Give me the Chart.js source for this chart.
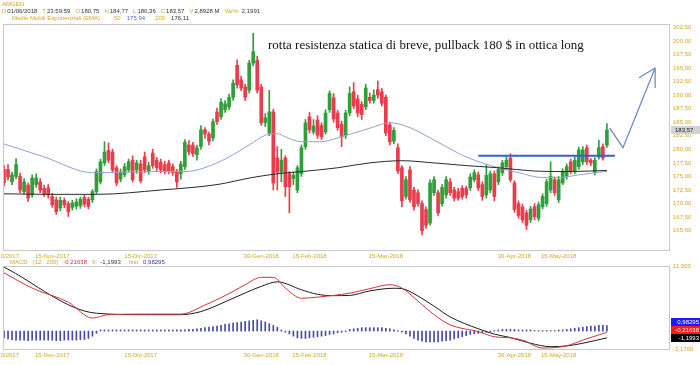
<!DOCTYPE html>
<html>
<head>
<meta charset="utf-8">
<title>AMGEN</title>
<script src="https://cdn.jsdelivr.net/npm/chart.js@4.4.1/dist/chart.umd.min.js"></script>
<style>
  html, body { margin: 0; padding: 0; background: #fff; }
  #wrap { position: relative; width: 700px; height: 365px; overflow: hidden; }
  #main { position: absolute; left: 0; top: 0; }
  #macd { position: absolute; left: 0; top: 257px; }
</style>
</head>
<body>
<div id="wrap">
  <canvas id="main" width="700" height="262" style="width:700px;height:262px"></canvas>
  <canvas id="macd" width="700" height="108" style="width:700px;height:108px"></canvas>
</div>
<script>
// Dati (AMGEN, giornaliero 31/10/2017 - 01/06/2018)
const tickIdx = [0, 12, 34, 64, 76, 95, 127, 138];
const tickLab = ['31/10/2017', '15-Nov-2017', '15-Dic-2017', '30-Gen-2018', '15-Feb-2018', '15-Mar-2018', '30-Apr-2018', '15-May-2018'];
const yTicks = [165, 167.5, 170, 172.5, 175, 177.5, 180, 182.5, 185, 187.5, 190, 192.5, 195, 197.5, 200, 202.5];
const macdTicks = [-3.17, 11.503];

const open = [
  176.3,176.3,174.0,175.0,175.0,172.2,173.4,171.6,173.5,174.0,
  172.8,172.9,171.3,170.7,169.2,170.6,170.0,169.3,169.5,169.6,
  171.1,170.8,170.7,172.2,174.0,177.5,179.8,179.5,176.6,174.5,
  175.3,176.2,178.0,176.2,177.3,178.6,175.9,179.3,178.0,177.6,
  177.2,177.5,176.8,175.9,175.5,176.8,180.8,180.8,179.0,180.5,
  183.6,182.8,182.1,186.9,186.0,187.3,187.8,189.6,195.5,192.8,
  191.5,190.9,195.9,196.4,191.5,184.9,183.0,186.9,178.4,175.8,
  178.4,175.5,174.6,172.5,175.5,180.5,186.0,183.2,185.4,184.4,
  183.2,187.3,189.5,186.7,184.6,182.6,186.7,190.6,189.3,188.3,
  187.8,189.6,189.0,191.0,190.6,189.6,184.5,181.5,180.3,176.6,
  171.3,176.2,172.5,172.0,170.0,168.9,166.4,172.0,172.0,170.0,
  171.6,174.0,172.5,172.2,172.8,172.8,172.9,174.4,175.3,173.5,
  171.6,172.5,175.5,174.0,175.7,176.8,178.4,173.8,170.0,169.4,
  168.3,167.0,169.4,167.3,169.4,170.0,172.5,174.4,170.7,173.8,
  175.0,177.7,176.0,176.8,177.7,180.3,178.0,175.8,178.6,180.5,
  180.75
];
const high = [
  177.0,177.2,175.8,178.3,175.6,174.6,173.8,175.3,175.5,174.6,
  173.4,173.5,171.9,171.2,171.2,171.0,170.4,170.6,170.9,171.2,
  171.6,171.2,172.6,176.4,178.2,181.4,181.2,180.0,177.0,176.4,
  177.4,178.2,178.8,178.0,178.0,179.5,177.6,180.0,178.5,178.2,
  177.8,178.0,177.3,176.3,177.8,181.8,181.6,181.3,180.8,184.4,
  184.0,183.2,185.6,187.6,189.3,189.0,190.2,192.8,196.5,193.5,
  192.0,196.4,201.4,197.2,192.0,186.6,190.9,187.4,180.5,180.0,
  178.8,175.9,175.8,177.0,180.8,185.5,186.8,185.5,186.2,184.9,
  187.3,190.8,190.3,187.2,185.2,187.2,191.5,192.3,190.0,188.8,
  192.0,190.4,191.0,192.6,191.2,190.0,185.0,184.0,181.0,177.0,
  175.0,176.8,173.0,172.6,170.5,169.4,174.4,175.0,172.5,173.5,
  175.0,174.6,173.0,172.8,173.3,173.2,175.5,176.2,175.8,174.0,
  177.1,176.0,176.0,176.8,178.0,178.8,179.2,174.2,170.5,169.9,
  168.8,169.5,170.0,170.3,171.8,174.5,177.7,174.9,175.0,176.4,
  177.3,178.2,178.6,180.4,180.5,180.8,178.3,178.5,181.7,181.0,
  184.77
];
const low = [
  173.3,174.3,173.5,174.6,172.0,171.8,170.4,171.2,173.0,172.0,
  171.3,171.0,169.3,168.0,168.7,169.2,167.6,168.8,169.0,169.1,
  169.4,169.0,170.2,171.8,173.6,177.0,177.5,175.8,173.3,174.0,
  174.9,175.8,174.0,175.6,173.8,175.7,175.4,176.5,176.0,175.7,
  175.5,175.5,175.2,173.0,174.5,176.3,179.0,178.7,178.0,180.0,
  182.0,180.8,181.6,184.6,185.5,186.8,187.3,189.0,191.3,190.8,
  189.0,190.4,195.4,190.4,184.4,184.2,182.5,172.5,172.5,174.0,
  171.3,168.3,173.5,172.0,175.0,180.0,183.0,182.8,182.0,181.8,
  182.8,186.8,185.0,183.5,180.5,182.0,186.2,187.5,186.0,185.5,
  187.3,188.5,188.5,189.4,188.0,182.5,180.8,181.0,175.5,169.4,
  170.8,170.2,168.8,169.5,164.2,165.4,166.0,171.5,167.8,169.5,
  171.0,171.5,170.5,170.6,170.8,171.0,172.4,174.0,172.4,170.6,
  171.0,172.0,170.5,173.5,175.2,176.3,174.0,168.4,167.3,166.5,
  165.2,166.5,167.0,166.8,169.0,169.5,172.0,171.5,170.2,173.5,
  174.5,175.5,175.5,176.3,177.2,177.2,177.0,175.3,178.2,178.0,
  180.36
];
const close = [
  173.8,174.9,175.3,177.2,172.5,174.0,171.0,174.7,174.7,172.5,
  171.8,171.6,169.8,168.5,170.6,169.8,168.5,170.1,170.3,170.8,
  169.9,169.5,172.2,175.9,177.7,179.5,178.0,176.2,173.8,175.8,
  176.8,177.7,174.4,177.5,174.2,176.2,177.0,177.0,176.6,176.2,
  176.0,176.0,175.7,174.0,177.3,181.3,179.5,179.2,180.3,183.6,
  182.8,181.5,185.1,185.1,188.7,188.4,189.6,192.2,191.9,191.3,
  189.6,195.9,198.0,190.9,184.9,185.8,186.9,173.8,175.8,178.0,
  173.1,173.1,175.2,176.6,180.3,184.9,183.6,184.3,182.6,182.3,
  186.7,190.3,185.6,184.0,182.3,186.7,190.3,188.0,186.7,186.4,
  191.3,189.0,190.0,190.0,188.5,183.0,181.4,183.5,176.0,170.5,
  174.4,170.7,169.4,170.0,165.0,166.0,173.8,174.4,168.3,173.0,
  174.4,172.0,171.0,171.0,171.3,171.6,174.9,175.7,172.9,171.3,
  175.2,175.5,171.3,176.3,177.5,178.0,174.4,168.9,167.8,167.0,
  166.0,169.0,167.6,169.8,171.3,174.0,175.0,172.0,174.4,175.9,
  176.8,176.0,178.0,179.9,179.9,177.7,177.5,178.0,180.3,178.4,
  183.57
];

// medie mobili esponenziali [indice, valore]
const ema50 = [[0,181.0],[10,178.6],[22,175.7],[30,175.8],[37,175.9],[45,175.9],[53,177.5],[61,180.8],[65,182.6],[68,182.9],[70,182.3],[74,181.4],[79,181.4],[83,182.1],[91,183.9],[96,184.9],[101,184.0],[107,181.7],[115,178.6],[123,176.6],[128,175.7],[134,174.8],[138,174.8],[143,175.3],[150,175.94]];
const ema200 = [[0,171.8],[12,171.7],[23,171.7],[39,172.5],[53,173.5],[61,174.7],[68,175.5],[74,175.9],[83,176.6],[91,177.5],[99,177.9],[107,177.5],[115,177.0],[123,176.6],[132,176.0],[140,175.9],[150,176.11]];

// MACD (12, 200), segnale 9, istogramma
const macdLine = [[0,10.3],[7,7.6],[16,5.1],[22,2.3],[26,2.9],[35,3.0],[44,3.0],[50,4.6],[57,7.0],[60,8.2],[64,9.5],[67,9.5],[70,7.6],[74,5.8],[78,6.0],[82,6.3],[86,6.7],[91,7.5],[96,8.2],[99,7.6],[103,5.3],[107,2.9],[111,1.1],[118,-0.1],[122,-1.0],[126,-1.2],[129,-1.6],[134,-3.0],[140,-2.6],[144,-1.6],[150,-0.21638]];
const signalLine = [[0,11.3],[23,3.15],[35,2.9],[44,2.9],[49,3.45],[57,5.8],[64,7.9],[68,8.7],[74,7.3],[78,6.5],[82,6.26],[86,6.3],[91,7.1],[97,7.57],[99,7.5],[103,6.2],[107,4.4],[111,2.5],[118,0.41],[122,-0.54],[126,-1.15],[131,-2.15],[136,-2.76],[140,-2.63],[144,-2.15],[150,-1.1993]];
const hist = [
  -1.2,-1.4,-1.5,-1.6,-1.6,-1.6,-1.7,-1.6,-1.6,-1.6,
  -1.6,-1.6,-1.6,-1.7,-1.7,-1.6,-1.6,-1.6,-1.6,-1.5,
  -1.5,-1.3,-0.9,-0.4,0.2,0.2,0.2,0.2,0.2,0.2,
  0.2,0.2,0.2,0.2,0.2,0.2,0.2,0.2,0.2,0.2,
  0.2,0.2,0.2,0.2,0.2,0.2,0.3,0.3,0.4,0.5,
  0.6,0.7,0.8,0.9,1.0,1.2,1.3,1.4,1.5,1.6,
  1.7,1.8,1.9,2.0,1.8,1.6,1.3,1.0,0.7,0.2,
  -0.2,-0.5,-0.9,-1.2,-1.3,-1.3,-1.2,-1.1,-1.0,-0.9,
  -0.8,-0.6,-0.5,-0.3,-0.2,-0.1,0.3,0.4,0.5,0.6,
  0.6,0.6,0.6,0.6,0.6,0.5,0.4,0.2,0.1,-0.2,
  -0.5,-0.9,-1.3,-1.6,-1.8,-1.9,-1.9,-1.9,-1.9,-1.8,
  -1.7,-1.6,-1.4,-1.2,-1.0,-0.8,-0.6,-0.5,-0.4,-0.3,
  -0.2,-0.1,0.1,0.2,0.3,0.3,0.3,0.3,0.2,0.2,
  0.2,0.2,0.1,0.1,0.1,0.1,0.1,0.1,0.2,0.2,
  0.3,0.4,0.5,0.6,0.7,0.8,0.9,0.9,1.0,1.0,
  0.98295
];

// linee disegnate a mano sul grafico
const resistenza = [[118, 178.8], [152, 178.8]];
const freccia = [[150.7, 183.9], [154, 180.3], [162, 195.0]];
const punta1 = [[158, 193.2], [162, 195.0]];
const punta2 = [[162, 195.0], [162, 191.3]];

const GOLD = '#d8a52a';
const DARK = '#333333';
const UP = '#2f9e3b';
const DOWN = '#ec3b4d';
const SANS = '"Liberation Sans", Arial, sans-serif';
const X_MIN = -0.25, X_MAX = 165.7;

const pts = arr => arr.map(p => ({ x: p[0], y: p[1] }));
const comma = (v, d) => v.toFixed(d).replace('.', ',');
const candleCol = close.map((c, i) => c >= open[i] ? UP : DOWN);

function drawRuns(ctx, x, y, parts) {
    parts.forEach(([t, c, g]) => {
        ctx.fillStyle = c;
        ctx.fillText(t, x, y);
        x += ctx.measureText(t).width + (g === undefined ? 1 : g);
    });
}

function xAxis(h) {
    return {
        type: 'linear', min: X_MIN, max: X_MAX, offset: false,
        grid: { display: false, drawTicks: false }, border: { display: false },
        ticks: {
            autoSkip: false, maxRotation: 0, padding: 3, color: GOLD,
            font: { size: 6, family: SANS },
            callback: v => tickLab[tickIdx.indexOf(v)] || ''
        },
        afterBuildTicks: s => { s.ticks = tickIdx.map(v => ({ value: v })); },
        afterFit: s => { s.height = h; s.paddingLeft = 0; s.paddingRight = 0; }
    };
}

function yAxis(min, max, ticks, fmt) {
    return {
        type: 'linear', position: 'right', min: min, max: max,
        grid: { display: false, drawTicks: false }, border: { display: false },
        ticks: { padding: 3, color: GOLD, font: { size: 6, family: SANS }, callback: fmt },
        afterBuildTicks: s => { s.ticks = ticks.map(v => ({ value: v })); },
        afterFit: s => { s.width = 30; s.paddingTop = 0; s.paddingBottom = 0; }
    };
}

// 1. Grafico principale: candele + medie
const mainPlugin = {
    id: 'mainDeco',
    afterDraw(chart) {
        const ctx = chart.ctx, a = chart.chartArea, y = chart.scales.y;
        ctx.save();
        ctx.strokeStyle = '#c8c8c8';
        ctx.lineWidth = 1;
        ctx.strokeRect(a.left + 0.5, a.top + 0.5, a.right - a.left - 1, a.bottom - a.top);

        ctx.font = '6px ' + SANS;
        ctx.textBaseline = 'middle';
        drawRuns(ctx, 2, 4, [['AMGEN', '#e39a2b']]);
        drawRuns(ctx, 2, 11, [
            ['D', GOLD], ['01/06/2018', DARK, 5], ['T', GOLD], ['23:59:59', DARK, 5],
            ['O', GOLD], [comma(open[150], 2), DARK, 5], ['H', GOLD], [comma(high[150], 2), DARK, 5],
            ['L', GOLD], [comma(low[150], 2), DARK, 5], ['C', GOLD], [comma(close[150], 2), DARK, 5],
            ['V', GOLD], ['2,8928 M', DARK, 5], ['Var%', GOLD, 3], ['2,1991', DARK]
        ]);
        drawRuns(ctx, 12, 18, [
            ['Medie Mobili Esponenziali (EMA)', GOLD, 14], ['50', GOLD, 6], [comma(175.94, 2), '#4a6fc0', 10],
            ['200', GOLD, 6], [comma(176.11, 2), DARK]
        ]);

        // commento
        ctx.font = '13px "Liberation Serif", "Times New Roman", serif';
        ctx.textBaseline = 'alphabetic';
        ctx.fillStyle = '#111';
        ctx.fillText('rotta resistenza statica di breve, pullback 180 $ in ottica long', 268, 49);

        // ultimo prezzo
        const py = Math.round(y.getPixelForValue(close[150]));
        ctx.fillStyle = '#d2d2d2';
        ctx.fillRect(a.right + 1, py - 4, 29, 8);
        ctx.fillStyle = '#222';
        ctx.font = '6px ' + SANS;
        ctx.textBaseline = 'middle';
        ctx.fillText(comma(close[150], 2), a.right + 5, py);
        ctx.restore();
    }
};

const lineDs = (data, color, width, order, curved) => ({
    type: 'line', data: pts(data), borderColor: color, borderWidth: width,
    pointRadius: 0, fill: false, order: order,
    cubicInterpolationMode: curved ? 'monotone' : 'default', tension: 0
});

new Chart(document.getElementById('main'), {
    type: 'bar',
    data: {
        datasets: [
            {
                data: close.map((c, i) => ({ x: i, y: [low[i], high[i]] })),
                backgroundColor: candleCol, barThickness: 1, grouped: false, order: 5
            },
            {
                data: close.map((c, i) => ({ x: i, y: [open[i], c] })),
                backgroundColor: candleCol, barThickness: 3, grouped: false, minBarLength: 1, order: 4
            },
            lineDs(ema200, '#2a2a2a', 1, 3, true),
            lineDs(ema50, '#8ea3d0', 1, 3, true),
            lineDs(resistenza, '#2f62d8', 2, 1),
            lineDs(freccia, '#6a84c4', 1.2, 1),
            lineDs(punta1, '#6a84c4', 1.2, 1),
            lineDs(punta2, '#6a84c4', 1.2, 1)
        ]
    },
    options: {
        responsive: false,
        animation: false,
        devicePixelRatio: 1,
        layout: { padding: { left: 3, top: 24, right: 0, bottom: 0 } },
        plugins: { legend: { display: false }, tooltip: { enabled: false } },
        scales: {
            x: xAxis(12),
            y: yAxis(161.44, 203.11, yTicks, v => comma(v, 2))
        }
    },
    plugins: [mainPlugin]
});

// 2. Pannello MACD
const macdPlugin = {
    id: 'macdDeco',
    afterDraw(chart) {
        const ctx = chart.ctx, a = chart.chartArea, y = chart.scales.y;
        ctx.save();
        ctx.strokeStyle = '#c8c8c8';
        ctx.lineWidth = 1;
        ctx.strokeRect(a.left + 0.5, a.top + 0.5, a.right - a.left - 1, a.bottom - a.top);

        ctx.font = '6px ' + SANS;
        ctx.textBaseline = 'middle';
        drawRuns(ctx, 10, 5, [
            ['MACD', GOLD, 5], ['(12 , 200)', GOLD, 5], [comma(macdLine[macdLine.length - 1][1], 5), '#d0303a', 5],
            ['9', GOLD, 5], [comma(signalLine[signalLine.length - 1][1], 4), DARK, 8],
            ['hist', GOLD, 5], [comma(hist[150], 5), '#3535a0']
        ]);

        // riquadri valori a destra (dal basso verso l'alto, senza sovrapposizioni)
        const boxes = [
            { v: signalLine[signalLine.length - 1][1], bg: '#000000', d: 4 },
            { v: macdLine[macdLine.length - 1][1], bg: '#ff1a1a', d: 5 },
            { v: hist[150], bg: '#1a1aff', d: 5 }
        ];
        let prev = Infinity;
        boxes.forEach(b => {
            let by = Math.round(y.getPixelForValue(b.v));
            if (by > prev - 8) by = prev - 8;
            prev = by;
            ctx.fillStyle = b.bg;
            ctx.fillRect(a.right + 1, by - 4, 29, 8);
            ctx.fillStyle = '#fff';
            ctx.textAlign = 'right';
            ctx.fillText(comma(b.v, b.d), a.right + 29, by);
        });
        ctx.restore();
    }
};

new Chart(document.getElementById('macd'), {
    type: 'bar',
    data: {
        datasets: [
            {
                data: hist.map((h, i) => ({ x: i, y: h })),
                backgroundColor: '#4848a8', barThickness: 1, grouped: false, order: 3
            },
            lineDs(signalLine, '#1a1a1a', 1, 2, true),
            lineDs(macdLine, '#d0343c', 1, 1, true)
        ]
    },
    options: {
        responsive: false,
        animation: false,
        devicePixelRatio: 1,
        layout: { padding: { left: 3, top: 9, right: 0, bottom: 0 } },
        plugins: { legend: { display: false }, tooltip: { enabled: false } },
        scales: {
            x: xAxis(16),
            y: yAxis(-3.17, 11.503, macdTicks, v => v > 0 ? comma(v, 3) : comma(v, 4))
        }
    },
    plugins: [macdPlugin]
});
</script>
</body>
</html>
